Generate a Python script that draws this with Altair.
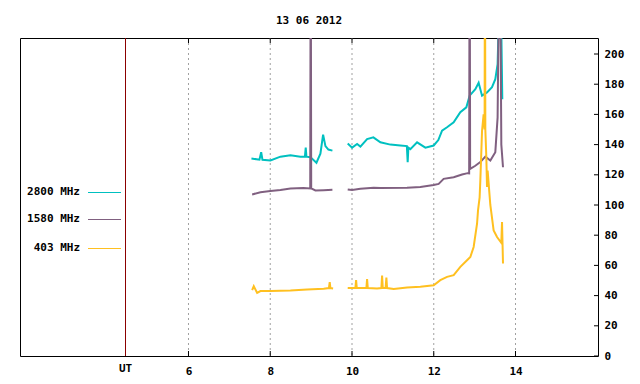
import altair as alt
import pandas as pd

# ---- data (hours UT, value) ----
t_2800_a = [7.540, 7.736, 7.778, 7.809, 8.005, 8.249, 8.494, 8.738, 8.848, 8.868, 8.885, 8.983, 9.130, 9.227, 9.293, 9.350, 9.423, 9.521]
v_2800_a = [130.8, 130.0, 135.0, 130.0, 129.5, 132.0, 133.0, 132.0, 132.0, 138.0, 132.0, 131.7, 128.0, 134.0, 146.6, 139.0, 136.7, 136.0]
t_2800_b = [9.895, 10.002, 10.125, 10.205, 10.369, 10.523, 10.694, 10.939, 11.183, 11.342, 11.362, 11.379, 11.428, 11.592, 11.795, 11.998, 12.112, 12.203, 12.325, 12.487, 12.650, 12.797, 12.878, 13.017, 13.098, 13.181, 13.303, 13.425, 13.506, 13.562, 13.597, 13.645, 13.677]
v_2800_b = [140.7, 138.0, 140.4, 138.7, 143.7, 144.8, 141.5, 140.0, 139.4, 139.0, 128.4, 138.0, 137.0, 141.5, 138.0, 139.4, 143.0, 149.3, 151.5, 154.8, 161.4, 164.7, 172.4, 176.7, 181.0, 172.4, 174.6, 178.0, 183.3, 193.3, 230.0, 230.0, 170.0]

t_1580_a = [7.557, 7.760, 8.005, 8.249, 8.494, 8.812, 8.978, 8.990, 9.002, 9.105, 9.308, 9.521]
v_1580_a = [107.0, 108.5, 109.2, 110.0, 111.0, 111.2, 111.0, 300.0, 111.0, 109.6, 109.8, 110.1]
t_1580_b = [9.895, 10.002, 10.205, 10.531, 10.694, 11.347, 11.672, 11.998, 12.120, 12.242, 12.487, 12.692, 12.829, 12.866, 12.878, 12.890, 13.017, 13.139, 13.262, 13.384, 13.506, 13.562, 13.616, 13.653, 13.694]
v_1580_b = [110.3, 109.9, 110.7, 111.4, 111.2, 111.4, 112.0, 113.3, 114.0, 117.3, 118.4, 120.2, 121.1, 121.0, 300.0, 123.9, 126.0, 128.4, 132.0, 129.5, 135.0, 158.0, 300.0, 140.0, 125.0]

t_403_a = [7.557, 7.597, 7.680, 7.760, 8.005, 8.494, 8.902, 9.308, 9.435, 9.455, 9.472, 9.538]
v_403_a = [43.6, 46.2, 41.8, 43.0, 43.1, 43.3, 44.0, 44.5, 45.0, 49.0, 45.0, 44.7]
t_403_b = [9.895, 10.083, 10.100, 10.117, 10.352, 10.369, 10.386, 10.614, 10.719, 10.736, 10.753, 10.822, 10.841, 10.858, 11.020, 11.347, 11.672, 11.998, 12.161, 12.325, 12.487, 12.650, 12.814, 12.895, 12.976, 13.059, 13.083, 13.122, 13.139, 13.181, 13.220, 13.244, 13.252, 13.262, 13.286, 13.303, 13.318, 13.384, 13.465, 13.548, 13.653, 13.670, 13.694]
v_403_b = [45.1, 45.0, 50.2, 45.0, 45.0, 50.9, 45.0, 44.7, 45.0, 53.3, 45.0, 45.0, 52.0, 45.0, 44.3, 45.4, 45.8, 46.9, 50.2, 52.4, 53.5, 59.0, 63.4, 65.6, 72.2, 87.6, 96.4, 105.0, 116.0, 149.0, 160.0, 150.0, 300.0, 150.0, 131.6, 112.0, 122.8, 100.0, 83.2, 78.8, 75.0, 88.8, 61.2]

series_names = ["2800 MHz", "1580 MHz", "403 MHz"]
series_colors = ["#00c0c0", "#806080", "#ffc020"]
x_tick_values = [6, 8, 10, 12, 14]
y_tick_values = [0, 20, 40, 60, 80, 100, 120, 140, 160, 180, 200]
ut_position = 4.459
title_text = "13 06 2012"

W, H = 578, 318
XDOM = [1.878, 16.018]
YDOM = [0, 210.6]
FONT = "DejaVu Sans Mono"
LEGEND_ROWS_PX = [154, 181, 210]

rows = []
for name, segs in zip(series_names, [
        [(t_2800_a, v_2800_a), (t_2800_b, v_2800_b)],
        [(t_1580_a, v_1580_a), (t_1580_b, v_1580_b)],
        [(t_403_a, v_403_a), (t_403_b, v_403_b)]]):
    for si, (ts, vs) in enumerate(segs):
        for i, (t, v) in enumerate(zip(ts, vs)):
            rows.append({"series": name, "seg": f"{name}-{si}", "t": t, "v": v, "i": i})
df = pd.DataFrame(rows)

xs = alt.Scale(domain=XDOM, nice=False, zero=False)
ys = alt.Scale(domain=YDOM, nice=False, zero=False)
cs = alt.Scale(domain=series_names, range=series_colors)

x_axis = alt.Axis(
    values=x_tick_values, ticks=False, tickSize=0, grid=False, domain=False,
    labelFont=FONT, labelFontSize=11, labelFontWeight="bold", labelColor="black",
    labelPadding=9, labelOverlap=False, title=None)
y_axis = alt.Axis(
    orient="right", values=y_tick_values, ticks=False, tickSize=0, grid=False, domain=False,
    labelFont=FONT, labelFontSize=11, labelFontWeight="bold", labelColor="black",
    labelPadding=6, labelOverlap=False, labelBound=False, title=None)

grid = alt.Chart(pd.DataFrame({"t": x_tick_values})).mark_rule(
    color="#a0a0a0", strokeDash=[2, 3], strokeWidth=1
).encode(x=alt.X("t:Q", scale=xs, axis=x_axis))

ut_rule = alt.Chart(pd.DataFrame({"t": [ut_position]})).mark_rule(
    color="#8b0000", strokeWidth=1
).encode(x=alt.X("t:Q", scale=xs, axis=x_axis))

ut_text = alt.Chart(pd.DataFrame({"t": [ut_position], "label": ["UT"]})).mark_text(
    font=FONT, fontSize=11, fontWeight="bold", color="black", baseline="middle"
).encode(x=alt.X("t:Q", scale=xs, axis=x_axis), y=alt.value(H + 13), text="label:N")

tick_bottom = alt.Chart(pd.DataFrame({"t": x_tick_values})).mark_rule(color="black").encode(
    x=alt.X("t:Q", scale=xs, axis=x_axis), y=alt.value(H), y2=alt.value(H - 5))
tick_top = alt.Chart(pd.DataFrame({"t": x_tick_values})).mark_rule(color="black").encode(
    x=alt.X("t:Q", scale=xs, axis=x_axis), y=alt.value(0), y2=alt.value(5))
tick_right = alt.Chart(pd.DataFrame({"v": y_tick_values})).mark_rule(color="black").encode(
    y=alt.Y("v:Q", scale=ys, axis=y_axis),
    x=alt.value(W), x2=alt.value(W - 4))

lines = alt.Chart(df).mark_line(strokeWidth=2, clip=True).encode(
    x=alt.X("t:Q", scale=xs, axis=x_axis),
    y=alt.Y("v:Q", scale=ys, axis=y_axis),
    color=alt.Color("series:N", scale=cs, legend=None),
    detail="seg:N",
    order="i:Q",
)

legend_layers = []
for name, col, ypx in zip(series_names, series_colors, LEGEND_ROWS_PX):
    ldf = pd.DataFrame({"name": [name]})
    legend_layers.append(alt.Chart(ldf).mark_text(
        font=FONT, fontSize=11, fontWeight="bold", color="black", align="right", baseline="middle"
    ).encode(x=alt.value(60), y=alt.value(ypx), text="name:N"))
    legend_layers.append(alt.Chart(ldf).mark_rule(strokeWidth=1, color=col).encode(
        x=alt.value(68), x2=alt.value(101), y=alt.value(ypx + 0.5)))

chart = alt.layer(
    grid, ut_rule, tick_bottom, tick_top, tick_right, lines, *legend_layers, ut_text
).properties(
    width=W, height=H,
    autosize=alt.AutoSizeParams(type="none"),
    padding={"left": 12, "top": 30, "right": 34, "bottom": 20},
    title=alt.TitleParams(title_text, font=FONT, fontSize=11, fontWeight="bold",
                          color="black", anchor="middle", offset=12),
).configure_view(stroke="black", strokeWidth=1).configure_axis(labelOverlap=False)

chart.save("out.html", embed_options={"renderer": "svg", "actions": False})
